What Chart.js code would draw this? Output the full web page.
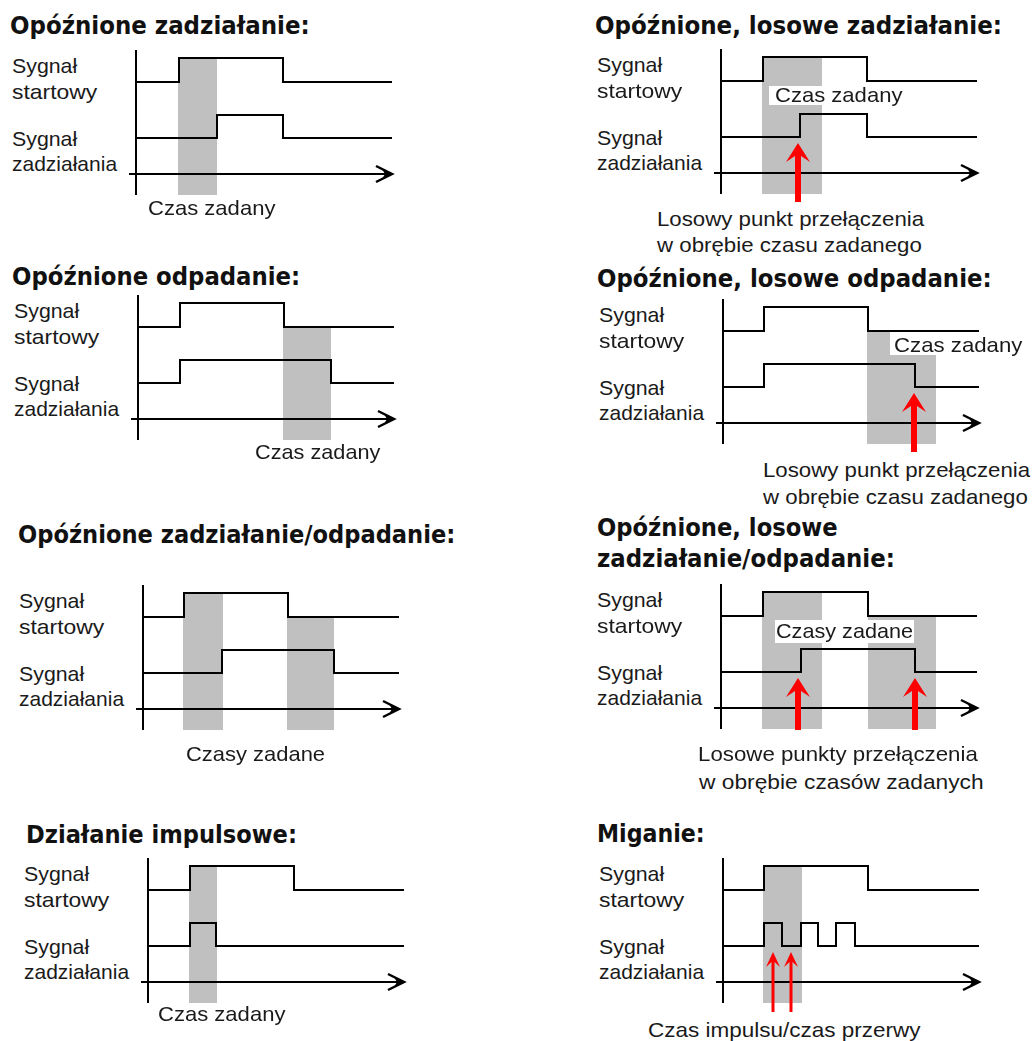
<!DOCTYPE html>
<html>
<head>
<meta charset="utf-8">
<script src="https://cdn.jsdelivr.net/npm/chart.js@4.4.1/dist/chart.umd.min.js"></script>
<style>
  body { margin: 0; background: #fff; width: 1032px; height: 1041px; position: relative; overflow: hidden; }
  canvas { position: absolute; }
  .t { position: absolute; white-space: nowrap; line-height: 1; transform-origin: 0 50%; z-index: 3; }
  .title { font: bold 24px "DejaVu Sans", sans-serif; color: #111; }
  .lab { font: 21px "Liberation Sans", Arial, sans-serif; color: #1a1a1a; }
  .box { position: absolute; background: #fff; z-index: 2; }
</style>
</head>
<body>
<script>
// --- DATA: switching times (time units along the axis), every edge toggles the signal ---
// signals start low at t = 0

// Opóźnione zadziałanie
const p1Start = [4.3, 14.7];
const p1Out = [8.1, 14.7];
const p1Gates = [[4.2, 8.1, 1]];   // [from, to, level of start signal at top]
const p1Arrows = [];

// Opóźnione, losowe zadziałanie
const p2Start = [4.2, 14.6];
const p2Out = [7.9, 14.6];
const p2Gates = [[4.1, 10.1, 1]];
const p2Arrows = [7.7];

// Opóźnione odpadanie
const p3Start = [4.2, 14.6];
const p3Out = [4.2, 19.3];
const p3Gates = [[14.5, 19.3, 0]];
const p3Arrows = [];

// Opóźnione, losowe odpadanie
const p4Start = [4.1, 14.5];
const p4Out = [4.1, 19.2];
const p4Gates = [[14.4, 21.3, 0]];
const p4Arrows = [19.1];

// Opóźnione zadziałanie/odpadanie
const p5Start = [4.1, 14.5];
const p5Out = [7.9, 19.1];
const p5Gates = [[4.0, 8.0, 1], [14.4, 19.1, 0]];
const p5Arrows = [];

// Opóźnione, losowe zadziałanie/odpadanie
const p6Start = [4.2, 14.7];
const p6Out = [8.0, 19.4];
const p6Gates = [[4.1, 10.1, 1], [14.7, 21.5, 0]];
const p6Arrows = [7.7, 19.4];

// Działanie impulsowe
const p7Start = [4.2, 14.6];
const p7Out = [4.2, 6.8];
const p7Gates = [[4.1, 6.9, 1]];
const p7Arrows = [];

// Miganie
const p8Start = [4.1, 14.5];
const p8Out = [4.1, 5.9, 7.8, 9.5, 11.3, 13.2];
const p8Gates = [[4.0, 7.9, 1]];
const p8Arrows = [5.0, 6.8];

// --- LAYOUT (value levels on the y scale, 0 = time axis) ---
const AXIS_END = 25.6;
const AXIS_START = -0.7;
const START_LOW = 9.2, START_HIGH = 11.6;
const OUT_LOW = 3.6, OUT_HIGH = 5.9;
const AXIS_TOP = 12.4, GATE_BOTTOM = -2.1;
const ARROW_TIP = 3.0;
const X_MIN = -1.0, X_MAX = 26.4, Y_MIN = -3.4, Y_MAX = 12.8;
const PX = 10; // pixels per unit

const panels = [
  { x0: 136, ay: 174, start: p1Start, out: p1Out, gates: p1Gates, arrows: p1Arrows, base: -2.9 },
  { x0: 721, ay: 173, start: p2Start, out: p2Out, gates: p2Gates, arrows: p2Arrows, base: -2.9 },
  { x0: 138, ay: 419, start: p3Start, out: p3Out, gates: p3Gates, arrows: p3Arrows, base: -2.9 },
  { x0: 723, ay: 423, start: p4Start, out: p4Out, gates: p4Gates, arrows: p4Arrows, base: -2.9 },
  { x0: 143, ay: 709, start: p5Start, out: p5Out, gates: p5Gates, arrows: p5Arrows, base: -2.9 },
  { x0: 721, ay: 708, start: p6Start, out: p6Out, gates: p6Gates, arrows: p6Arrows, base: -2.2 },
  { x0: 148, ay: 982, start: p7Start, out: p7Out, gates: p7Gates, arrows: p7Arrows, base: -2.9 },
  { x0: 723, ay: 982, start: p8Start, out: p8Out, gates: p8Gates, arrows: p8Arrows, base: -3.0, thin: true },
];

// --- POINT STYLE IMAGES ---
function chevron() {
  const c = document.createElement("canvas");
  c.width = 40; c.height = 24;
  const g = c.getContext("2d");
  g.translate(20, 12);
  g.strokeStyle = "#000"; g.fillStyle = "#000";
  g.lineWidth = 2.5;
  g.beginPath(); g.moveTo(-16, -8); g.lineTo(0, 0); g.lineTo(-16, 8); g.stroke();
  g.beginPath(); g.moveTo(1, 0); g.lineTo(-10, -5); g.lineTo(-7, 0); g.lineTo(-10, 5); g.closePath(); g.fill();
  return c;
}

function arrowHead(w, h, notch, neckW) {
  const c = document.createElement("canvas");
  c.width = w * 2 + 4; c.height = h * 2 + 4;
  const g = c.getContext("2d");
  g.translate(c.width / 2, c.height / 2);
  g.fillStyle = "#ff0000";
  g.beginPath();
  g.moveTo(0, 0);
  g.lineTo(w, h);
  g.lineTo(neckW, notch);
  g.lineTo(-neckW, notch);
  g.lineTo(-w, h);
  g.closePath();
  g.fill();
  return c;
}

const chevronImg = chevron();
const bigHead = arrowHead(12, 19, 13, 3);
const smallHead = arrowHead(7, 15, 10, 1.5);

function stepPoints(edges, low, high) {
  const pts = [{ x: 0, y: low }];
  let lvl = 0;
  edges.forEach((t) => {
    lvl = 1 - lvl;
    pts.push({ x: t, y: lvl ? high : low });
  });
  pts.push({ x: AXIS_END, y: lvl ? high : low });
  return pts;
}

function makePanel(p) {
  const cv = document.createElement("canvas");
  const w = (X_MAX - X_MIN) * PX, h = (Y_MAX - Y_MIN) * PX;
  cv.width = w; cv.height = h;
  cv.style.left = (p.x0 + X_MIN * PX) + "px";
  cv.style.top = (p.ay - Y_MAX * PX) + "px";
  cv.style.width = w + "px"; cv.style.height = h + "px";
  document.body.appendChild(cv);

  const datasets = [];

  // gray set-time boxes
  p.gates.forEach(([a, b, lvl]) => {
    const top = lvl ? START_HIGH : START_LOW;
    datasets.push({
      data: [{ x: a, y: top }, { x: b, y: top }],
      borderWidth: 0, pointRadius: 0,
      backgroundColor: "#c0c0c0",
      fill: { value: GATE_BOTTOM },
      order: 3,
    });
  });

  const lineStyle = { borderColor: "#000", borderWidth: 2, pointRadius: 0, fill: false, order: 2 };

  datasets.push({ ...lineStyle, data: stepPoints(p.start, START_LOW, START_HIGH), stepped: true });
  datasets.push({ ...lineStyle, data: stepPoints(p.out, OUT_LOW, OUT_HIGH), stepped: true });

  // vertical axis
  datasets.push({ ...lineStyle, data: [{ x: 0, y: GATE_BOTTOM }, { x: 0, y: AXIS_TOP }] });
  // time axis with arrow
  datasets.push({
    ...lineStyle,
    data: [{ x: AXIS_START, y: 0 }, { x: AXIS_END, y: 0 }],
    pointRadius: [0, 5],
    pointStyle: chevronImg,
  });

  // red arrows
  p.arrows.forEach((t) => {
    const neck = ARROW_TIP - (p.thin ? 1.0 : 1.3);
    datasets.push({
      data: [{ x: t, y: p.base }, { x: t, y: neck }],
      borderColor: "#ff0000", borderWidth: p.thin ? 3 : 6, pointRadius: 0, fill: false, order: 1,
    });
    datasets.push({
      data: [{ x: t, y: ARROW_TIP }],
      showLine: false, pointRadius: 5, pointStyle: p.thin ? smallHead : bigHead, order: 0,
    });
  });

  new Chart(cv, {
    type: "line",
    data: { datasets },
    options: {
      responsive: false,
      animation: false,
      events: [],
      layout: { padding: 0, autoPadding: false },
      plugins: { legend: { display: false }, tooltip: { enabled: false } },
      elements: {
        line: { tension: 0, borderCapStyle: "butt", borderJoinStyle: "miter" },
        point: { hoverRadius: 0 },
      },
      scales: {
        x: { type: "linear", min: X_MIN, max: X_MAX, display: false },
        y: { type: "linear", min: Y_MIN, max: Y_MAX, display: false },
      },
    },
  });
}

panels.forEach(makePanel);

// --- TEXT ---
function addText(txt, left, cy, w, cls) {
  const d = document.createElement("div");
  d.className = "t " + cls;
  d.textContent = txt;
  d.style.left = left + "px";
  d.style.top = cy + "px";
  document.body.appendChild(d);
  const nat = d.offsetWidth;
  d.style.transform = "translateY(-50%) scaleX(" + (w / nat).toFixed(4) + ")";
}

function addBox(x, y, w, h) {
  const b = document.createElement("div");
  b.className = "box";
  b.style.left = x + "px"; b.style.top = y + "px";
  b.style.width = w + "px"; b.style.height = h + "px";
  document.body.appendChild(b);
}

const titles = [
  ["Opóźnione zadziałanie:", 10, 26, 300],
  ["Opóźnione, losowe zadziałanie:", 595, 26, 407],
  ["Opóźnione odpadanie:", 12, 277, 288],
  ["Opóźnione, losowe odpadanie:", 597, 279, 395],
  ["Opóźnione zadziałanie/odpadanie:", 18, 535, 437],
  ["Opóźnione, losowe", 597, 528, 241],
  ["zadziałanie/odpadanie:", 597, 559, 298],
  ["Działanie impulsowe:", 26, 835, 271],
  ["Miganie:", 597, 834, 108],
];
titles.forEach(([s, x, y, w]) => addText(s, x, y, w, "title"));

panels.forEach((p) => {
  addText("Sygnał", p.x0 - 124, p.ay - 108, 65, "lab");
  addText("startowy", p.x0 - 124, p.ay - 82, 85, "lab");
  addText("Sygnał", p.x0 - 124, p.ay - 35, 65, "lab");
  addText("zadziałania", p.x0 - 124, p.ay - 10, 105, "lab");
});

addText("Czas zadany", 148, 208, 127, "lab");
addText("Czas zadany", 255, 452, 125, "lab");
addText("Czasy zadane", 186, 754, 139, "lab");
addText("Czas zadany", 158, 1014, 127, "lab");

addBox(769, 86, 134, 19);
addText("Czas zadany", 775, 95, 127, "lab");
addText("Losowy punkt przełączenia", 657, 219, 267, "lab");
addText("w obrębie czasu zadanego", 657, 245, 265, "lab");

addBox(890, 332, 142, 23);
addText("Czas zadany", 894, 345, 128, "lab");
addText("Losowy punkt przełączenia", 763, 470, 267, "lab");
addText("w obrębie czasu zadanego", 763, 497, 265, "lab");

addBox(775, 620, 139, 23);
addText("Czasy zadane", 776, 631, 137, "lab");
addText("Losowe punkty przełączenia", 698, 754, 280, "lab");
addText("w obrębie czasów zadanych", 699, 782, 285, "lab");

addText("Czas impulsu/czas przerwy", 648, 1030, 272, "lab");
</script>
</body>
</html>
